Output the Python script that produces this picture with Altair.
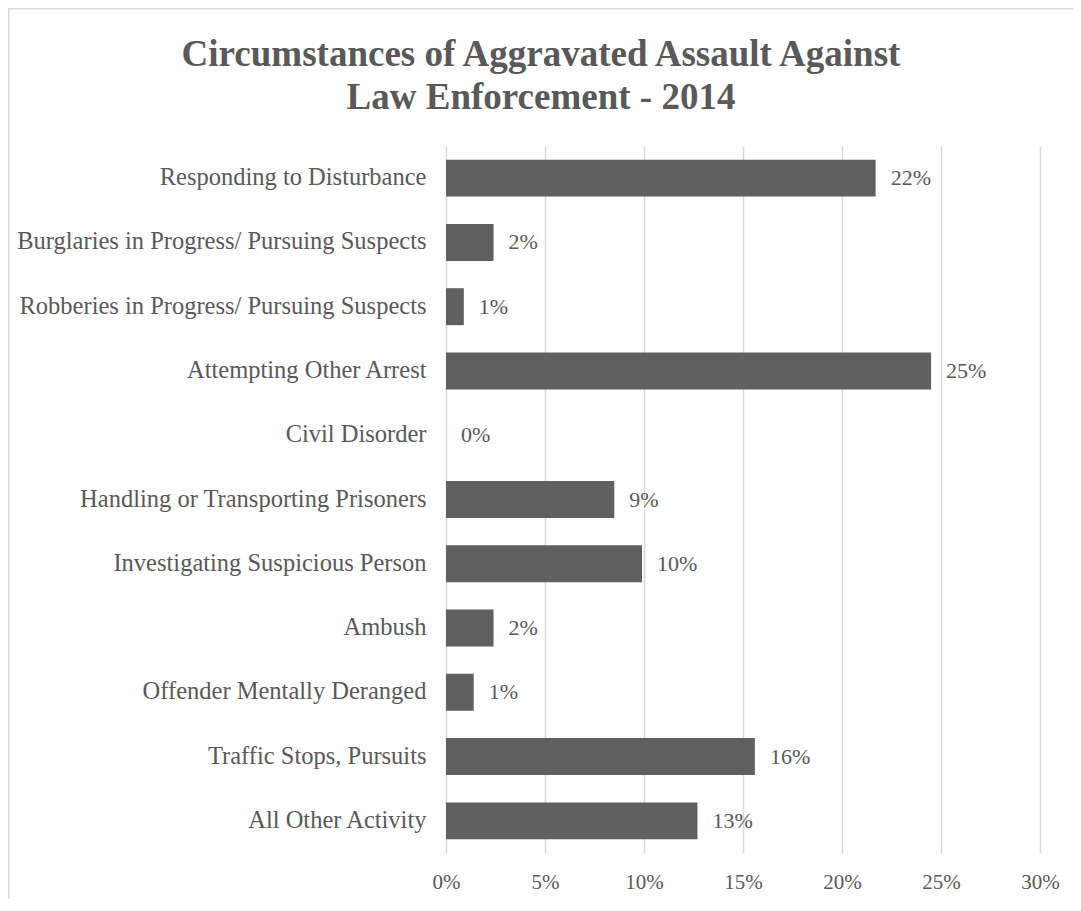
import altair as alt
import pandas as pd

categories = [
    "Responding to Disturbance",
    "Burglaries in Progress/ Pursuing Suspects",
    "Robberies in Progress/ Pursuing Suspects",
    "Attempting Other Arrest",
    "Civil Disorder",
    "Handling or Transporting Prisoners",
    "Investigating Suspicious Person",
    "Ambush",
    "Offender Mentally Deranged",
    "Traffic Stops, Pursuits",
    "All Other Activity",
]
shares = [0.217, 0.024, 0.009, 0.245, 0.0, 0.085, 0.099, 0.024, 0.014, 0.156, 0.127]
share_labels = ["22%", "2%", "1%", "25%", "0%", "9%", "10%", "2%", "1%", "16%", "13%"]
tick_values = [0, 0.05, 0.10, 0.15, 0.20, 0.25, 0.30]
title_lines = ["Circumstances of Aggravated Assault Against", "Law Enforcement - 2014"]

df = pd.DataFrame({"cat": categories, "share": shares, "label": share_labels})

FONT = "Liberation Serif"
TXT = "#595959"
W, H = 594, 707

x_enc = alt.X(
    "share:Q",
    scale=alt.Scale(domain=[0, 0.30], nice=False, zero=True),
    axis=alt.Axis(
        values=tick_values, format=".0%", title=None, domain=False, ticks=False,
        grid=True, gridColor="#d9d9d9", gridWidth=1.5, labelFlush=False,
        labelFont=FONT, labelFontSize=21, labelColor=TXT, labelPadding=18,
    ),
)
y_enc = alt.Y(
    "cat:N", sort=categories,
    scale=alt.Scale(paddingInner=0.425, paddingOuter=0.2125),
    axis=alt.Axis(
        title=None, domain=False, ticks=False, grid=False,
        labelFont=FONT, labelFontSize=24.5, labelColor=TXT, labelPadding=20,
        labelLimit=600,
    ),
)

base = alt.Chart(df)
bars = base.mark_bar(color="#606060").encode(x=x_enc, y=y_enc)
texts = base.mark_text(
    align="left", baseline="middle", dx=15, font=FONT, fontSize=22, color=TXT
).encode(x="share:Q", y=alt.Y("cat:N", sort=categories), text="label:N")

one = pd.DataFrame({"k": [0]})
frame = alt.Chart(one).mark_rect(
    color="#ffffff", fillOpacity=0, stroke="#d9d9d9", strokeOpacity=1, strokeWidth=1.5
).encode(
    x=alt.value(-437.2), x2=alt.value(660), y=alt.value(-137.2), y2=alt.value(790)
)
title = alt.Chart(one).mark_text(
    text=title_lines, font=FONT, fontSize=37, fontWeight="bold", color=TXT,
    align="center", baseline="alphabetic", lineHeight=43,
).encode(x=alt.value(95), y=alt.value(-80))

chart = alt.layer(frame, title, bars, texts).properties(
    width=W, height=H,
    autosize=alt.AutoSizeParams(type="none"),
    padding={"left": 438, "top": 138, "right": 33, "bottom": 46},
).configure_view(stroke=None)

chart.save("out.html", embed_options={"renderer": "svg", "actions": False})
